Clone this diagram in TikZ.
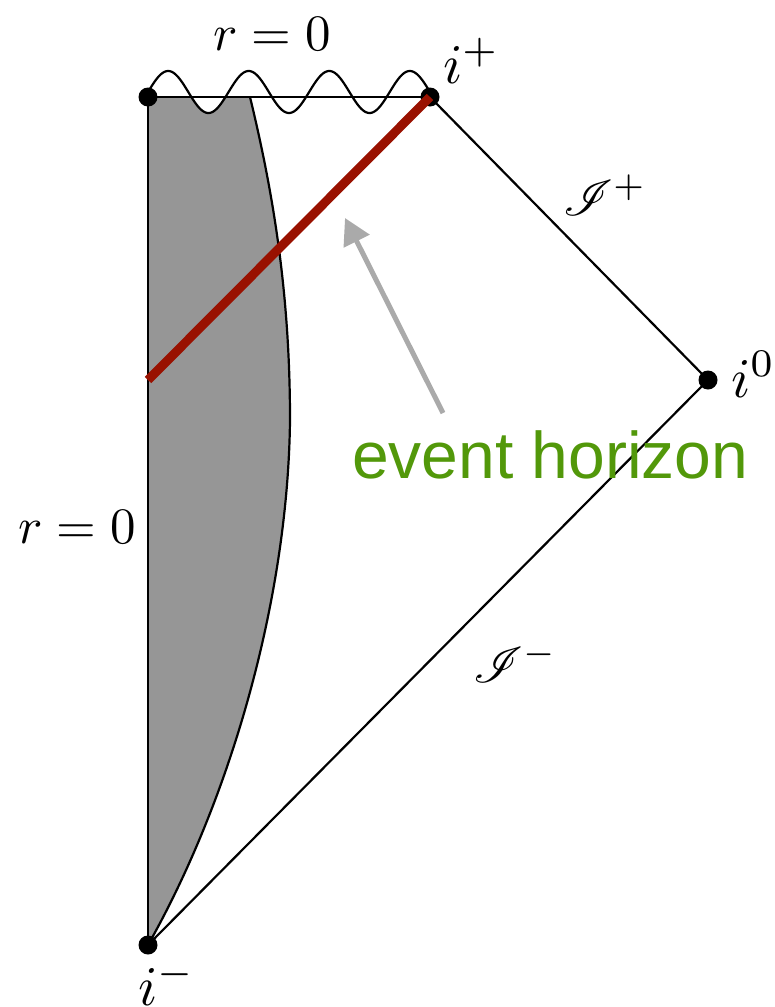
\documentclass[tikz,border=0pt]{standalone}
\usepackage{graphicx}
\usepackage{mathrsfs}
\usepackage{fontspec}
\newfontfamily\evfont{Liberation Sans}
\usetikzlibrary{arrows.meta}
\definecolor{ehred}{RGB}{153,17,0}
\definecolor{ehgreen}{RGB}{82,152,10}
\definecolor{ehgray}{RGB}{170,170,170}
\definecolor{starfill}{RGB}{150,150,150}
\tikzset{
  dot/.style={circle,fill=black,inner sep=0pt,minimum size=19pt},
  edge/.style={line width=2.2pt,black},
  lbl/.style={inner sep=0pt},
  horizon/.style={line width=9pt,ehred},
  pointer/.style={line width=5pt,ehgray,-{Triangle[length=26pt,width=28pt]}},
}
\begin{document}
\begin{tikzpicture}[x=1pt,y=-1pt]
\useasboundingbox (0,0) rectangle (774,1007);
% shaded collapsing star
\fill[starfill] (148,97) -- (250,97) .. controls (275,200) and (290,300) .. (290,420)
  .. controls (288,600) and (230,800) .. (148,945) -- cycle;
% white between wave and line
\fill[white] plot[domain=148:430,samples=300] (\x,{92-21*sin((\x-148)*4.46809)}) -- cycle;
\draw[edge] (250,97) .. controls (275,200) and (290,300) .. (290,420)
  .. controls (288,600) and (230,800) .. (148,945);
% nodes
\node[dot] (tl) at (148,97) {};
\node[dot] (ip) at (430,97) {};
\node[dot] (io) at (708,380) {};
\node[dot] (im) at (148,945) {};
\coordinate (hstart) at (148,380);
% edges
\draw[edge] (tl.center) -- (ip.center);
\draw[edge] plot[domain=148:430,samples=300] (\x,{92-21*sin((\x-148)*4.46809)});
\draw[edge] (tl.center) -- (im.center);
\draw[edge] (ip.center) -- (io.center);
\draw[edge] (io.center) -- (im.center);
% horizon
\draw[horizon] (hstart) -- (ip.center);
% labels
\node[lbl,anchor=base] (rtop) at (272,50) {\scalebox{5.1}{$r=0$}};
\node[lbl,anchor=base] (rleft) at (77,543) {\scalebox{5.1}{$r=0$}};
\node[lbl,anchor=base west] (lip) at (443,83) {\scalebox{5.6}{$i^+$}};
\node[lbl,anchor=base west] (lio) at (731,397) {\scalebox{5.6}{$i^0$}};
\node[lbl,anchor=base west] (lim) at (138,1005) {\scalebox{5.6}{$i^-$}};
\node[lbl,anchor=base west] (scp) at (563,215) {\scalebox{5}{$\mathscr{I}^+$}};
\node[lbl,anchor=base west] (scm) at (473,682) {\scalebox{5}{$\mathscr{I}^-$}};
% event horizon label and arrow
\node[lbl,anchor=base west,text=ehgreen] (eh) at (352,478) {\evfont\fontsize{66}{70}\selectfont event horizon};
\coordinate (atail) at (443,413);
\coordinate (atip) at (345,218);
\draw[pointer] (atail) -- (atip);
\end{tikzpicture}
\end{document}
